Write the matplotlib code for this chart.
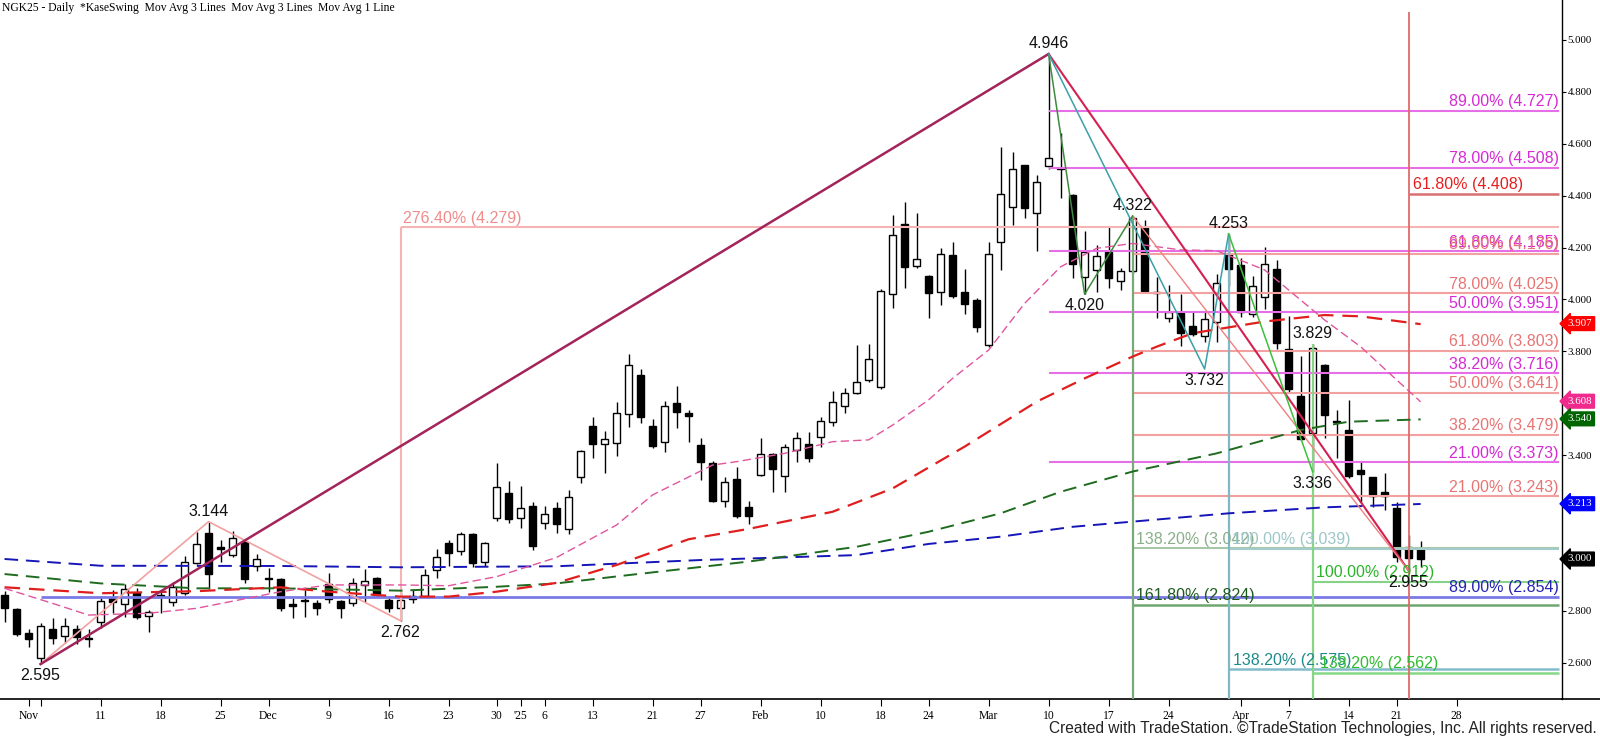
#%% Import packages
import numpy as np
import matplotlib
matplotlib.use('Agg')
from matplotlib import pyplot as plt
from matplotlib.lines import Line2D

#%% Data: daily NGK25 bars, index 0 = 30 Oct 2024
opens = [2.862, 2.807, 2.714, 2.618, 2.729, 2.703, 2.729, 2.697, 2.756, 2.851,
         2.827, 2.868, 2.780, 2.861, 2.835, 2.868, 2.983, 3.099, 3.045, 3.015,
         3.067, 2.973, 2.928, 2.922, 2.826, 2.841, 2.832, 2.904, 2.838, 2.829,
         2.899, 2.928, 2.842, 2.810, 2.857, 2.859, 2.958, 3.060, 3.031, 3.095,
         2.987, 3.157, 3.256, 3.157, 3.204, 3.138, 3.195, 3.115, 3.317, 3.513,
         3.442, 3.446, 3.558, 3.709, 3.513, 3.450, 3.600, 3.561, 3.439, 3.369,
         3.224, 3.307, 3.199, 3.324, 3.403, 3.320, 3.420, 3.442, 3.469, 3.527,
         3.590, 3.639, 3.690, 3.664, 4.020, 4.291, 4.130, 4.091, 4.030, 4.171,
         4.028, 3.998, 3.825, 4.220, 4.355, 4.518, 4.332, 4.514, 4.508, 4.403,
         4.086, 4.114, 4.184, 4.071, 4.110, 4.278, 4.030, 3.930, 3.947, 3.898,
         3.860, 3.912, 4.174, 4.133, 3.944, 4.008, 4.116, 3.808, 3.628, 3.484,
         3.748, 3.532, 3.497, 3.343, 3.315, 3.259, 3.195, 3.047, 3.044]
highs = [2.875, 2.810, 2.730, 2.752, 2.771, 2.771, 2.746, 2.729, 2.857, 2.881,
         2.902, 2.887, 2.803, 2.881, 2.913, 3.011, 3.103, 3.144, 3.073, 3.109,
         3.073, 3.019, 2.964, 2.925, 2.849, 2.881, 2.842, 2.946, 2.842, 2.926,
         2.960, 2.932, 2.850, 2.874, 2.883, 2.960, 3.039, 3.073, 3.103, 3.100,
         3.067, 3.369, 3.301, 3.281, 3.221, 3.204, 3.221, 3.266, 3.420, 3.549,
         3.493, 3.604, 3.790, 3.731, 3.538, 3.610, 3.667, 3.574, 3.465, 3.378,
         3.317, 3.356, 3.224, 3.468, 3.407, 3.442, 3.488, 3.491, 3.548, 3.647,
         3.658, 3.825, 3.829, 4.040, 4.326, 4.376, 4.332, 4.094, 4.197, 4.223,
         4.118, 4.005, 4.223, 4.589, 4.567, 4.520, 4.480, 4.946, 4.640, 4.405,
         4.264, 4.210, 4.278, 4.121, 4.322, 4.306, 4.088, 4.056, 4.021, 3.957,
         3.953, 4.097, 4.253, 4.159, 4.091, 4.201, 4.152, 3.938, 3.782, 3.829,
         3.751, 3.574, 3.613, 3.379, 3.316, 3.330, 3.221, 3.092, 3.070]
lows = [2.758, 2.703, 2.662, 2.595, 2.672, 2.675, 2.671, 2.662, 2.735, 2.791,
        2.775, 2.768, 2.720, 2.793, 2.820, 2.861, 2.981, 2.883, 2.990, 3.009,
        2.909, 2.955, 2.874, 2.801, 2.771, 2.778, 2.784, 2.829, 2.771, 2.820,
        2.835, 2.855, 2.797, 2.762, 2.829, 2.855, 2.926, 2.973, 3.015, 2.970,
        2.974, 3.148, 3.138, 3.118, 3.035, 3.114, 3.102, 3.098, 3.292, 3.390,
        3.333, 3.398, 3.510, 3.523, 3.427, 3.414, 3.503, 3.452, 3.304, 3.218,
        3.202, 3.157, 3.135, 3.321, 3.259, 3.259, 3.375, 3.375, 3.433, 3.514,
        3.561, 3.637, 3.683, 3.655, 3.966, 4.046, 4.120, 3.928, 3.979, 4.005,
        3.943, 3.876, 3.818, 4.114, 4.287, 4.313, 4.188, 4.502, 4.390, 4.084,
        4.020, 4.030, 4.043, 4.037, 4.101, 4.024, 3.928, 3.912, 3.822, 3.859,
        3.835, 3.835, 4.053, 3.931, 3.931, 3.963, 3.809, 3.639, 3.459, 3.336,
        3.465, 3.390, 3.311, 3.221, 3.202, 3.189, 2.990, 2.955, 2.970]
closes = [2.812, 2.711, 2.690, 2.742, 2.694, 2.743, 2.698, 2.692, 2.838, 2.833,
          2.884, 2.778, 2.795, 2.852, 2.893, 2.987, 3.057, 2.941, 3.037, 3.080,
          2.923, 3.001, 2.924, 2.812, 2.820, 2.837, 2.812, 2.844, 2.812, 2.906,
          2.914, 2.861, 2.812, 2.841, 2.844, 2.938, 3.006, 3.022, 3.095, 2.983,
          3.060, 3.276, 3.153, 3.195, 3.051, 3.172, 3.134, 3.238, 3.416, 3.443,
          3.461, 3.561, 3.748, 3.548, 3.434, 3.590, 3.565, 3.552, 3.375, 3.225,
          3.296, 3.167, 3.167, 3.403, 3.346, 3.430, 3.465, 3.390, 3.533, 3.604,
          3.639, 3.681, 3.770, 4.033, 4.249, 4.127, 4.155, 4.026, 4.174, 4.015,
          3.981, 3.893, 4.174, 4.405, 4.502, 4.354, 4.452, 4.547, 4.503, 4.136,
          4.182, 4.169, 4.084, 4.110, 4.315, 4.034, 4.024, 3.951, 3.872, 3.867,
          3.925, 4.062, 4.116, 3.951, 4.053, 4.136, 3.833, 3.654, 3.461, 3.814,
          3.555, 3.526, 3.320, 3.326, 3.244, 3.243, 3.009, 3.003, 3.000]

# date axis (bar index of each labelled tick)
tick_idx = [2, 3, 8, 13, 18, 22, 27, 32, 37, 41, 43, 45, 49, 54, 58, 63, 68, 73,
            77, 82, 87, 92, 97, 103, 107, 112, 116, 121]
tick_lbl = ['Nov', '', '11', '18', '25', 'Dec', '9', '16', '23', '30', "'25", '6',
            '13', '21', '27', 'Feb', '10', '18', '24', 'Mar', '10', '17', '24',
            'Apr', '7', '14', '21', '28']

# moving averages read at selected bars
ma_blue_idx = [0, 8, 23, 33, 46, 58, 71, 77, 83, 89, 94, 102, 110, 118]
ma_blue = [3.000, 2.974, 2.973, 2.968, 2.972, 2.996, 3.015, 3.058, 3.086, 3.124,
           3.144, 3.176, 3.199, 3.212]
ma_green_idx = [0, 8, 16, 23, 33, 41, 46, 52, 62, 71, 77, 83, 88, 94, 101, 108, 112, 118]
ma_green = [2.942, 2.906, 2.887, 2.887, 2.878, 2.893, 2.906, 2.938, 2.990, 3.047,
            3.105, 3.176, 3.259, 3.337, 3.407, 3.497, 3.529, 3.538]
ma_red_idx = [0, 8, 16, 23, 27, 33, 37, 41, 46, 51, 57, 62, 69, 74, 80, 86, 90, 94,
              96, 99, 105, 110, 113, 118]
ma_red = [2.891, 2.868, 2.876, 2.891, 2.874, 2.855, 2.855, 2.874, 2.908, 2.977,
          3.076, 3.116, 3.182, 3.272, 3.433, 3.606, 3.696, 3.780, 3.818, 3.870,
          3.915, 3.940, 3.935, 3.905]
ma_pink_idx = [0, 4, 7, 12, 16, 23, 27, 33, 37, 41, 46, 51, 54, 59, 61, 65, 69, 72,
               74, 77, 79, 82, 85, 88, 91, 94, 98, 101, 105, 108, 110, 113, 116, 118]
ma_pink = [2.887, 2.829, 2.784, 2.791, 2.810, 2.874, 2.900, 2.900, 2.897, 2.932,
           3.006, 3.131, 3.247, 3.362, 3.375, 3.407, 3.452, 3.459, 3.516, 3.613,
           3.696, 3.805, 3.985, 4.126, 4.197, 4.216, 4.191, 4.188, 4.114, 3.998,
           3.921, 3.818, 3.690, 3.606]

# swing points (bar index, price)
swing_idx = [3, 17, 33, 87, 90, 94, 100, 102, 109, 109, 117]
swing_val = [2.595, 3.144, 2.762, 4.946, 4.020, 4.322, 3.732, 4.253, 3.336, 3.829, 2.955]
swing_pos = ['below', 'above', 'below', 'above', 'below', 'above', 'below', 'above',
             'below', 'above', 'below']

# fibonacci levels
mag_pct = ['89.00%', '78.00%', '61.80%', '50.00%', '38.20%', '21.00%']
mag_val = [4.727, 4.508, 4.185, 3.951, 3.716, 3.373]
sal_pct = ['89.00%', '78.00%', '61.80%', '50.00%', '38.20%', '21.00%']
sal_val = [4.176, 4.025, 3.803, 3.641, 3.479, 3.243]
ext_val = 4.279    # 276.40%
red_val = 4.408    # 61.80%
blue_val = 2.854   # 89.00%
grn_a_val = [3.042, 2.824]      # 138.20%, 161.80% from 4.322
teal_val = [3.039, 2.575]       # 100.00%, 138.20% from 4.253
lgrn_val = [2.912, 2.562]       # 100.00%, 138.20% from 3.829

# last values shown on the price axis
last_val = [3.907, 3.608, 3.540, 3.213, 3.000]

#%% Figure
plt.rcParams['font.family'] = ['Liberation Sans', 'DejaVu Sans']
fig = plt.figure(figsize=(16, 7.39), dpi=100)
ax = fig.add_axes([0, 40/739, 1562/1600, 699/739])
ax.set_xlim(-0.38, 129.78)
ax.set_ylim(2.4605, 5.154)
xend = 129.5

opens = np.array(opens); closes = np.array(closes)
highs = np.array(highs); lows = np.array(lows)
idx = np.arange(len(closes))
up = closes >= opens

# candles
ax.vlines(idx, lows, highs, color='black', lw=1, zorder=3)
ax.bar(idx, np.maximum(np.abs(closes - opens), 0.002), bottom=np.minimum(opens, closes),
       width=0.62, color=np.where(up, 'white', 'black'), edgecolor='black',
       linewidth=1, zorder=4)

# moving averages
ax.plot(ma_blue_idx, ma_blue, color='#1515b8', lw=1.4, dashes=(7, 4), zorder=6)
ax.plot(ma_green_idx, ma_green, color='#1f6b1f', lw=1.4, dashes=(7, 4), zorder=6)
ax.plot(ma_red_idx, ma_red, color='#e01e1e', lw=1.6, dashes=(7, 4), zorder=6)
ax.plot(ma_pink_idx, ma_pink, color='#e0559e', lw=1.0, dashes=(6, 3), zorder=6)

# horizontal levels
def level(val, start, color, lw=1.5):
    ax.hlines(val, start, xend, color=color, lw=lw, zorder=5)

def lvl_text(x, val, txt, color, ha):
    ax.annotate(txt, xy=(x, val), xytext=(0, 1), textcoords='offset points',
                ha=ha, va='bottom', color=color, fontsize=11.5, zorder=8)

level(ext_val, 33, '#f6b4b4')
lvl_text(33.2, ext_val, f'276.40% ({ext_val:.3f})', '#ee8c8c', 'left')
for p, v in zip(mag_pct, mag_val):
    level(v, 87, '#e66ee6')
    lvl_text(xend, v, f'{p} ({v:.3f})', '#d52ad5', 'right')
for p, v in zip(sal_pct, sal_val):
    level(v, 94, '#f2a0a0')
    lvl_text(xend, v, f'{p} ({v:.3f})', '#e87474', 'right')
level(red_val, 117, '#d87070', lw=1.8)
lvl_text(117.4, red_val, f'61.80% ({red_val:.3f})', '#e61e1e', 'left')
level(blue_val, 3, '#7a7ae6', lw=2)
lvl_text(xend, blue_val, f'89.00% ({blue_val:.3f})', '#2424b4', 'right')

level(grn_a_val[0], 94, '#a6c8a6')
lvl_text(94.25, grn_a_val[0], f'138.20% ({grn_a_val[0]:.3f})', '#8aae8a', 'left')
level(grn_a_val[1], 94, '#6fa66f', lw=1.8)
lvl_text(94.25, grn_a_val[1], f'161.80% ({grn_a_val[1]:.3f})', '#1e5a1e', 'left')
level(teal_val[0], 102, '#a4cccc')
lvl_text(102.25, teal_val[0], f'100.00% ({teal_val[0]:.3f})', '#9cc6c8', 'left')
level(teal_val[1], 102, '#82bccc', lw=1.8)
lvl_text(102.35, teal_val[1], f'138.20% ({teal_val[1]:.3f})', '#1f8a8a', 'left')
level(lgrn_val[0], 109, '#86d286')
lvl_text(109.3, lgrn_val[0], f'100.00% ({lgrn_val[0]:.3f})', '#2ab42a', 'left')
level(lgrn_val[1], 109, '#86d886', lw=1.8)
lvl_text(109.6, lgrn_val[1], f'138.20% ({lgrn_val[1]:.3f})', '#30bc30', 'left')

# vertical projection lines
ylo = ax.get_ylim()[0]
ax.vlines(33, lows[33], ext_val, color='#f6b4b4', lw=1.5, zorder=5)
ax.vlines(94, ylo, highs[94], color='#78aa78', lw=1.6, zorder=5)
ax.vlines(102, ylo, highs[102], color='#80b8c4', lw=1.6, zorder=5)
ax.vlines(109, ylo, highs[109], color='#86d486', lw=1.6, zorder=5)
ax.vlines(117, ylo, 5.108, color='#e06a6a', lw=1.3, zorder=5)

# swing lines
sw = dict(zip(swing_idx, swing_val))
ax.plot([3, 17, 33], [sw[3], sw[17], sw[33]], color='#f2a0a0', lw=1.2, zorder=7)
ax.plot([3, 87], [sw[3], sw[87]], color='#a3245a', lw=1.8, zorder=7)
ax.plot([87, 117], [sw[87], sw[117]], color='#d42050', lw=1.5, zorder=7)
ax.plot([94, 117], [sw[94], sw[117]], color='#f08080', lw=1.0, zorder=7)
ax.plot([87, 90, 94], [sw[87], sw[90], sw[94]], color='#3f8a3f', lw=1.1, zorder=7)
ax.plot([87, 100, 102], [sw[87], sw[100], sw[102]], color='#3aa0a8', lw=1.1, zorder=7)
ax.plot([102, 109], [sw[102], swing_val[8]], color='#3cc03c', lw=1.1, zorder=7)

for i, v, pos in zip(swing_idx, swing_val, swing_pos):
    dy, va = (2, 'bottom') if pos == 'above' else (-3, 'top')
    ax.annotate(f'{v:.3f}', xy=(i, v), xytext=(0, dy), textcoords='offset points',
                ha='center', va=va, fontsize=11.5, color='#111111', zorder=9)

# axes styling
for s in ['left', 'top']:
    ax.spines[s].set_visible(False)
ax.spines['right'].set_linewidth(1)
ax.spines['bottom'].set_linewidth(1.2)
ax.yaxis.tick_right()
yt = np.arange(2.6, 5.01, 0.2)
ax.set_yticks(yt)
ax.set_yticklabels([f'{v:.3f}' for v in yt], family='Liberation Serif', fontsize=7.8)
ax.tick_params(axis='y', direction='out', length=3, pad=1)
ax.set_xticks(tick_idx)
ax.set_xticklabels(tick_lbl, family='Liberation Serif', fontsize=8.4)
ax.tick_params(axis='x', direction='out', length=5, pad=3)
fig.add_artist(Line2D([1562/1600, 1], [40/739, 40/739], color='black', lw=1.2))

box_col = ['#ff0000', '#f02a8c', '#006400', '#0000ff', '#000000']
for v, c in zip(last_val, box_col):
    ax.annotate(f'{v:.3f}', xy=(1, v), xycoords=('axes fraction', 'data'),
                xytext=(4, 0), textcoords='offset points', ha='left', va='center',
                color='white', fontsize=7.8, family='Liberation Serif',
                bbox=dict(boxstyle='larrow,pad=0.22', fc=c, ec=c), zorder=10,
                annotation_clip=False)

fig.text(2/1600, 1 - 8/739,
         'NGK25 - Daily  *KaseSwing  Mov Avg 3 Lines  Mov Avg 3 Lines  Mov Avg 1 Line',
         family='Liberation Serif', fontsize=8.4, ha='left', va='center')
fig.text(1597/1600, 1 - 729/739,
         'Created with TradeStation. \u00a9TradeStation Technologies, Inc. All rights reserved.',
         fontsize=11.2, ha='right', va='center', color='#222222')

fig.savefig('out.png', dpi=100)
